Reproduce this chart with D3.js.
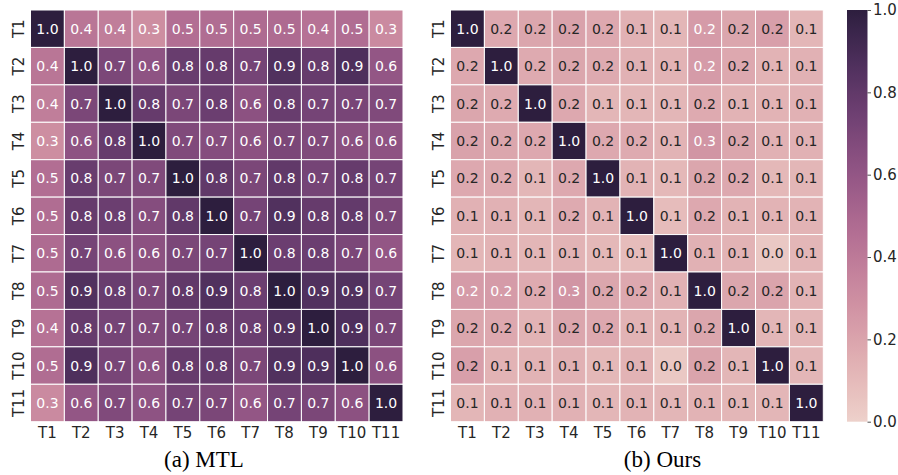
<!DOCTYPE html>
<html>
<head>
<meta charset="utf-8">
<script src="https://cdn.jsdelivr.net/npm/d3@7"></script>
<style>
  html, body { margin: 0; padding: 0; background: #ffffff; }
  svg { display: block; }
</style>
</head>
<body>
<svg id="chart" width="898" height="475"></svg>
<script>
// ---------------- DATA ----------------
const tasks = ["T1","T2","T3","T4","T5","T6","T7","T8","T9","T10","T11"];

const mtlValues = [
  [1.00,0.42,0.38,0.30,0.46,0.47,0.48,0.48,0.44,0.47,0.32],
  [0.42,1.00,0.70,0.62,0.77,0.78,0.72,0.86,0.78,0.87,0.60],
  [0.38,0.70,1.00,0.78,0.70,0.76,0.63,0.77,0.72,0.71,0.68],
  [0.30,0.62,0.78,1.00,0.68,0.66,0.63,0.70,0.68,0.64,0.62],
  [0.46,0.77,0.70,0.68,1.00,0.80,0.70,0.80,0.72,0.78,0.72],
  [0.47,0.78,0.76,0.66,0.80,1.00,0.72,0.86,0.78,0.79,0.70],
  [0.48,0.72,0.63,0.63,0.70,0.72,1.00,0.76,0.76,0.70,0.60],
  [0.48,0.86,0.77,0.70,0.80,0.86,0.76,1.00,0.86,0.86,0.72],
  [0.44,0.78,0.72,0.68,0.72,0.78,0.76,0.86,1.00,0.87,0.70],
  [0.47,0.87,0.71,0.64,0.78,0.79,0.70,0.86,0.87,1.00,0.63],
  [0.32,0.60,0.68,0.62,0.72,0.70,0.60,0.72,0.70,0.63,1.00]
];

const oursValues = [
  [1.00,0.18,0.19,0.21,0.18,0.14,0.12,0.24,0.19,0.22,0.12],
  [0.18,1.00,0.17,0.19,0.17,0.14,0.13,0.24,0.18,0.13,0.14],
  [0.19,0.17,1.00,0.18,0.12,0.12,0.12,0.17,0.13,0.13,0.14],
  [0.21,0.19,0.18,1.00,0.18,0.17,0.13,0.27,0.19,0.14,0.14],
  [0.18,0.17,0.12,0.18,1.00,0.13,0.11,0.19,0.18,0.11,0.12],
  [0.14,0.14,0.12,0.17,0.13,1.00,0.09,0.18,0.13,0.13,0.13],
  [0.12,0.13,0.12,0.13,0.11,0.09,1.00,0.14,0.13,0.04,0.12],
  [0.24,0.24,0.17,0.27,0.19,0.18,0.14,1.00,0.19,0.20,0.13],
  [0.19,0.18,0.13,0.19,0.18,0.13,0.13,0.19,1.00,0.12,0.12],
  [0.22,0.13,0.13,0.14,0.11,0.13,0.04,0.20,0.12,1.00,0.12],
  [0.12,0.14,0.14,0.14,0.12,0.13,0.12,0.13,0.12,0.12,1.00]
];

const captions = ["(a) MTL", "(b) Ours"];
const colorbarTicks = [0.0, 0.2, 0.4, 0.6, 0.8, 1.0];

// ---------------- COLOR MAP (seaborn cubehelix_palette, as_cmap) ----------------
function cubehelixSeaborn(v) {
  const light = 0.85, dark = 0.15, start = 0, rot = 0.4, gamma = 1.0, hue = 0.8;
  const t = Math.max(0, Math.min(1, v));
  const x = light + (dark - light) * t;
  const xg = Math.pow(x, gamma);
  const a = hue * xg * (1 - xg) / 2;
  const phi = 2 * Math.PI * (start / 3 + rot * x);
  const f = (p0, p1) => Math.max(0, Math.min(1, xg + a * (p0 * Math.cos(phi) + p1 * Math.sin(phi))));
  return [f(-0.14861, 1.78277), f(-0.29227, -0.90649), f(1.97294, 0.0)];
}
const colorScale = d3.scaleLinear().domain([0, 1]).range([0, 1]).clamp(true);
function fillFor(v) {
  const c = cubehelixSeaborn(colorScale(v));
  return d3.rgb(c[0] * 255, c[1] * 255, c[2] * 255).formatHex();
}
function luminance(v) {
  const c = cubehelixSeaborn(colorScale(v)).map(u => u <= 0.03928 ? u / 12.92 : Math.pow((u + 0.055) / 1.055, 2.4));
  return 0.2126 * c[0] + 0.7152 * c[1] + 0.0722 * c[2];
}

// ---------------- LAYOUT ----------------
const svg = d3.select("#chart");
const textColor = "#262626";
const gridTop = 10, gridBottom = 421.7;
const panels = [
  { values: mtlValues, x0: 30.5, x1: 403, capX: 204, caption: captions[0] },
  { values: oursValues, x0: 450.5, x1: 823.3, capX: 662.5, caption: captions[1] }
];

panels.forEach(p => {
  const x = d3.scaleBand().domain(tasks).range([p.x0, p.x1]).padding(0);
  const y = d3.scaleBand().domain(tasks).range([gridTop, gridBottom]).padding(0);

  const cells = [];
  p.values.forEach((row, i) => row.forEach((v, j) => cells.push({ r: tasks[i], c: tasks[j], v })));

  const g = svg.append("g");
  g.selectAll("rect.cell").data(cells).join("rect")
    .attr("class", "cell")
    .attr("x", d => x(d.c))
    .attr("y", d => y(d.r))
    .attr("width", x.bandwidth())
    .attr("height", y.bandwidth())
    .attr("fill", d => fillFor(d.v))
    .attr("stroke", "#ffffff")
    .attr("stroke-width", 1);

  g.selectAll("text.annot").data(cells).join("text")
    .attr("class", "annot")
    .attr("x", d => x(d.c) + x.bandwidth() / 2)
    .attr("y", d => y(d.r) + y.bandwidth() / 2)
    .attr("text-anchor", "middle")
    .attr("dominant-baseline", "central")
    .attr("font-family", "'DejaVu Sans', sans-serif")
    .attr("font-size", "14px")
    .attr("fill", d => luminance(d.v) > 0.408 ? textColor : "#ffffff")
    .text(d => d.v.toFixed(1));

  // x axis
  const xa = svg.append("g")
    .attr("transform", `translate(0,${gridBottom})`)
    .call(d3.axisBottom(x).tickSize(0).tickPadding(6));
  xa.select(".domain").remove();
  xa.selectAll("text")
    .attr("font-family", "'DejaVu Sans', sans-serif")
    .attr("font-size", "15px")
    .attr("fill", textColor);

  // y axis (rotated labels)
  const ya = svg.append("g")
    .attr("transform", `translate(${p.x0},0)`)
    .call(d3.axisLeft(y).tickSize(0));
  ya.select(".domain").remove();
  ya.selectAll("text")
    .attr("font-family", "'DejaVu Sans', sans-serif")
    .attr("font-size", "15px")
    .attr("fill", textColor)
    .attr("transform", "rotate(-90)")
    .attr("text-anchor", "middle")
    .attr("x", 0)
    .attr("y", -7)
    .attr("dy", 0);

  // caption
  svg.append("text")
    .attr("x", p.capX)
    .attr("y", 467)
    .attr("text-anchor", "middle")
    .attr("font-family", "'Liberation Serif', 'Times New Roman', serif")
    .attr("font-size", "23px")
    .attr("fill", "#000000")
    .text(p.caption);
});

// ---------------- COLORBAR ----------------
const cbX = 847, cbW = 20.5;
const cbScale = d3.scaleLinear().domain([0, 1]).range([gridBottom, gridTop]);
const defs = svg.append("defs");
const grad = defs.append("linearGradient")
  .attr("id", "cbgrad")
  .attr("x1", 0).attr("y1", 1).attr("x2", 0).attr("y2", 0);
d3.range(0, 1.0001, 0.02).forEach(t => {
  grad.append("stop").attr("offset", t).attr("stop-color", fillFor(t));
});
svg.append("rect")
  .attr("x", cbX)
  .attr("y", gridTop)
  .attr("width", cbW)
  .attr("height", gridBottom - gridTop)
  .attr("fill", "url(#cbgrad)");

const cba = svg.append("g")
  .attr("transform", `translate(${cbX + cbW},0)`)
  .call(d3.axisRight(cbScale).tickValues(colorbarTicks).tickFormat(d3.format(".1f")).tickSize(3.5).tickPadding(2));
cba.select(".domain").remove();
cba.selectAll("line").attr("stroke", textColor).attr("stroke-width", 0.8);
cba.selectAll("text")
  .attr("font-family", "'DejaVu Sans', sans-serif")
  .attr("font-size", "15px")
  .attr("fill", textColor);
</script>
</body>
</html>
